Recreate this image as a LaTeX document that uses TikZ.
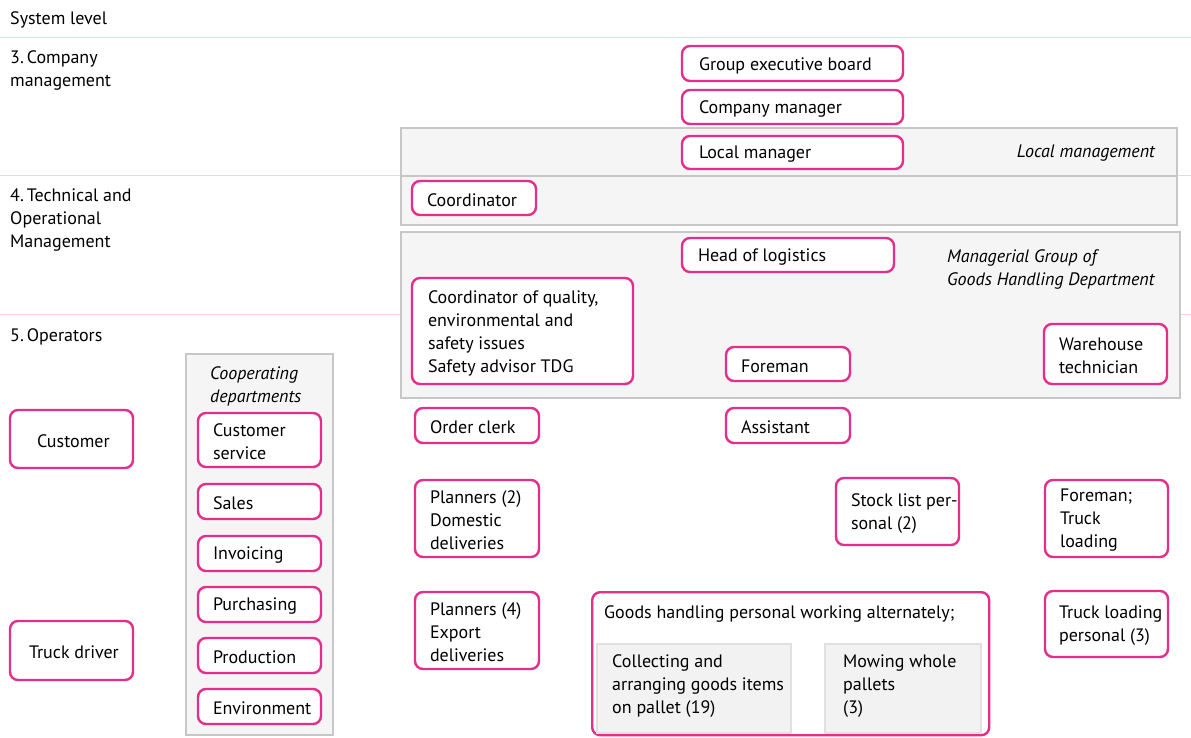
\documentclass[tikz,border=0pt]{standalone}
\usepackage{fontspec}
\setmainfont{PT Sans}
\definecolor{pk}{RGB}{229,45,140}
\definecolor{pkl}{RGB}{248,208,222}
\tikzset{
  pbox/.style={draw=pk, line width=2.4pt, rounded corners=8pt, fill=white, inner sep=0pt},
  gbox/.style={draw=black!22, line width=1.6pt, fill=black!4},
  ibox/.style={draw=black!12, line width=1.4pt, fill=black!5},
  lbl/.style={anchor=west, align=left, inner sep=0pt, font=\fontsize{18}{23}\selectfont},
  ilbl/.style={lbl, font=\fontsize{18}{23}\selectfont\itshape},
  sep/.style={draw=pkl, line width=1pt}
}
% \pb[x text offset]{name}{x1}{y1}{x2}{y2}{text}
\newcommand\pb[7][16]{%
  \pgfmathsetmacro\pbw{#5-#3}\pgfmathsetmacro\pbh{#6-#4}%
  \node[pbox, minimum width=\pbw pt, minimum height=\pbh pt] (#2) at ({(#3+#5)/2},{(#4+#6)/2}) {};
  \node[lbl, yshift=-2pt] (#2-t) at ([xshift=#1pt]#2.west) {#7};}
\begin{document}
\begin{tikzpicture}[x=1pt,y=-1pt]
\useasboundingbox (0,0) rectangle (1191,737);
% separator lines
\coordinate (s1a) at (0,37); \coordinate (s1b) at (1191,37);
\coordinate (s2a) at (0,175); \coordinate (s2b) at (1191,175);
\coordinate (s3a) at (0,314); \coordinate (s3b) at (1191,314);
\draw[sep] (s1a) -- (s1b);
\draw[sep] (s2a) -- (s2b);
\draw[sep] (s3a) -- (s3b);
% level labels
\node[lbl] (sys) at (10,20) {System level};
\node[lbl] (l3) at (10,70) {3.\,Company\\management};
\node[lbl] (l4) at (10,220) {4.\,Technical and\\Operational\\Management};
\node[lbl] (l5) at (10,337) {5.\,Operators};
% gray group boxes
\draw[gbox] (401,128) rectangle (1177,176);
\draw[gbox] (401,176) rectangle (1177,225);
\draw[gbox] (401,232) rectangle (1180,398);
\draw[gbox] (186,354) rectangle (333,735);
\node[ilbl, anchor=east] (locm) at (1155,153) {Local management};
\node[ilbl] (mgg) at (947,269.5) {Managerial Group of\\Goods Handling Department};
\node[ilbl] (coop) at (210,386.5) {Cooperating\\departments};
% boxes
\pb[18]{geb}{682}{46}{903}{81}{Group executive board}
\pb[18]{cm}{682}{90}{903}{124}{Company manager}
\pb[18]{lm}{682}{136}{903}{169}{Local manager}
\pb{coord}{412}{181}{536}{215}{Coordinator}
\pb[17]{hol}{682}{238}{894}{272}{Head of logistics}
\pb[17]{cq}{412}{278}{633}{384}{Coordinator of quality,\\environmental and\\safety issues\\Safety advisor TDG}
\pb{fm}{726}{347}{850}{381}{Foreman}
\pb[16]{wt}{1044}{324}{1167}{384}{Warehouse\\technician}
\pb{oc}{415}{408}{539}{443}{Order clerk}
\pb{as}{726}{408}{850}{443}{Assistant}
\pb[28]{cust}{10}{410}{133}{468}{Customer}
\pb{cs}{198}{413}{321}{467}{Customer\\service}
\pb{sales}{198}{484}{321}{519}{Sales}
\pb{inv}{198}{536}{321}{571}{Invoicing}
\pb{pur}{198}{587}{321}{622}{Purchasing}
\pb{prod}{198}{638}{321}{673}{Production}
\pb{env}{198}{689}{321}{724}{Environment}
\pb{pl2}{415}{480}{539}{557}{Planners (2)\\Domestic\\deliveries}
\pb{sl}{836}{478}{959}{545}{Stock list per-\\sonal (2)}
\pb{ftl}{1045}{480}{1168}{557}{Foreman;\\Truck\\loading}
\pb{pl4}{415}{592}{539}{669}{Planners (4)\\Export\\deliveries}
\pb[15]{tlp}{1045}{591}{1168}{657}{Truck loading\\personal (3)}
\pb[20]{td}{10}{621}{133}{680}{Truck driver}
% goods handling
\node[pbox, minimum width=397pt, minimum height=143pt, anchor=north west] (gh) at (591,591) {};
\node[lbl] (ght) at (604,614) {Goods handling personal working alternately;};
\draw[ibox] (597,644) rectangle (791,733);
\draw[ibox] (825,644) rectangle (981,733);
\node[lbl] (coll) at (612,686.5) {Collecting and\\arranging goods items\\on pallet (19)};
\node[lbl] (mow) at (843,686.5) {Mowing whole\\pallets\\(3)};
\end{tikzpicture}
\end{document}
